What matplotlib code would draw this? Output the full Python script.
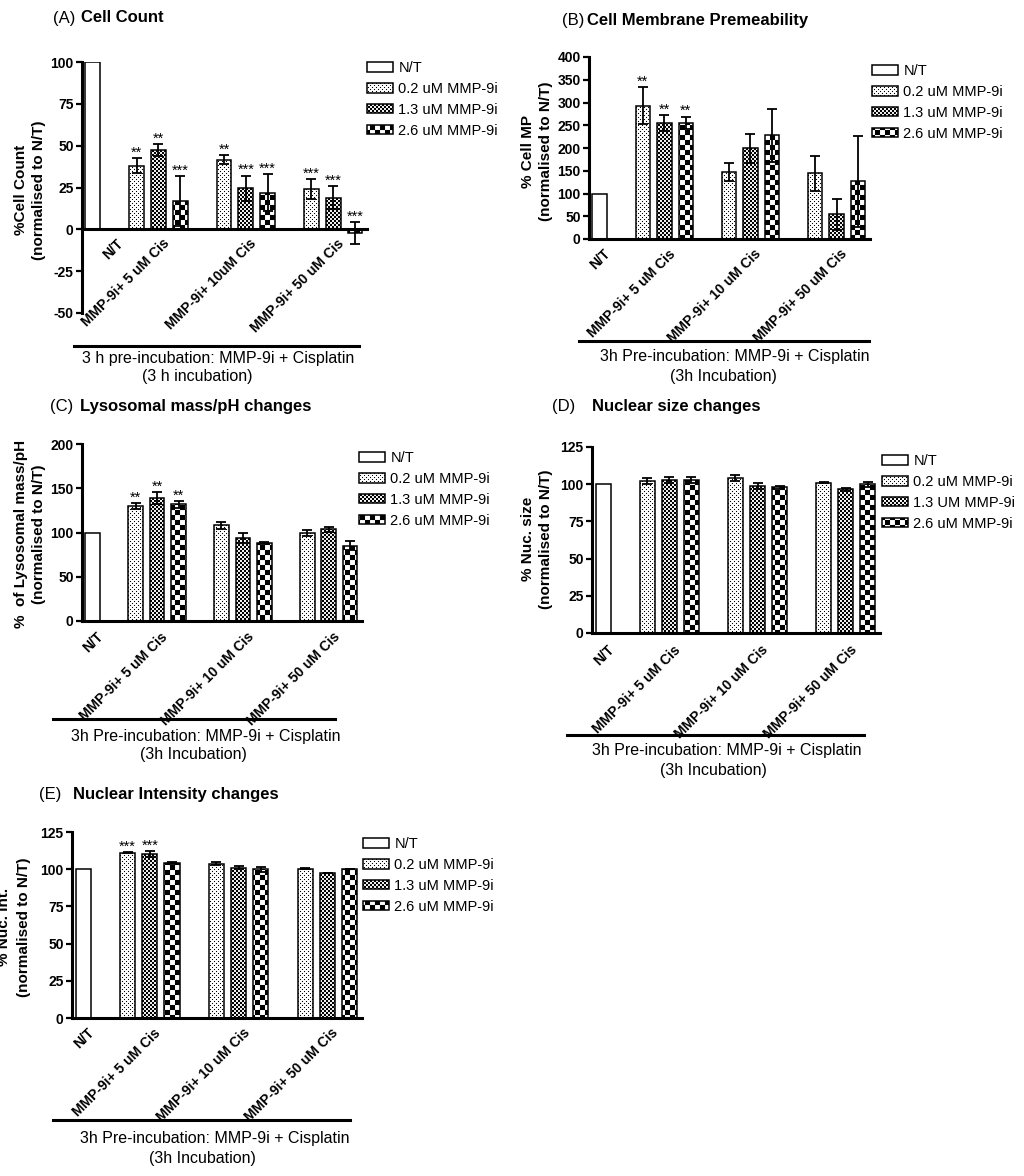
import numpy as np
import matplotlib
matplotlib.use('Agg')
import matplotlib.pyplot as plt
import matplotlib.hatch as mhatch
from matplotlib.path import Path
from matplotlib.lines import Line2D

plt.rcParams['font.family'] = ['Liberation Sans', 'DejaVu Sans']
plt.rcParams['hatch.linewidth'] = 0.05

# ---------------- data ----------------
series_labels = ['N/T', '0.2 uM MMP-9i', '1.3 uM MMP-9i', '2.6 uM MMP-9i']
series_labels_d = ['N/T', '0.2 uM MMP-9i', '1.3 UM MMP-9i', '2.6 uM MMP-9i']
group_labels = ['N/T', 'MMP-9i+ 5 uM Cis', 'MMP-9i+ 10 uM Cis', 'MMP-9i+ 50 uM Cis']
group_labels_a = ['N/T', 'MMP-9i+ 5 uM Cis', 'MMP-9i+ 10uM Cis', 'MMP-9i+ 50 uM Cis']
nt_value = 100

# (A) Cell count: per inhibitor dose, across 5 / 10 / 50 uM Cis
a_02 = [38, 41.7, 24];   a_02_err = [4.5, 2.5, 6]
a_13 = [47.3, 24.6, 19]; a_13_err = [3.5, 7.5, 7]
a_26 = [17, 22, -2];     a_26_err = [15, 11, 6.5]
a_stars = [['**', '**', '***'], ['**', '***', '***'], ['***', '***', '***']]

# (B) Cell membrane permeability
b_02 = [293, 147, 144]; b_02_err = [41, 20, 38]
b_13 = [255, 199, 54];  b_13_err = [17, 32, 35]
b_26 = [255, 228, 127]; b_26_err = [14, 58, 100]
b_stars = [['**', '', ''], ['**', '', ''], ['**', '', '']]

# (C) Lysosomal mass/pH
c_02 = [130, 108, 99.6];   c_02_err = [3.5, 4, 3.5]
c_13 = [139, 94, 103.4];   c_13_err = [6.5, 5.5, 3]
c_26 = [131.7, 88.3, 85.3]; c_26_err = [4, 1.5, 5]
c_stars = [['**', '', ''], ['**', '', ''], ['**', '', '']]

# (D) Nuclear size
d_02 = [102.2, 104.2, 100.9]; d_02_err = [2, 2, 0.3]
d_13 = [103.1, 99.1, 96.7];   d_13_err = [2, 2, 1]
d_26 = [103, 98, 99.8];       d_26_err = [2, 1, 2]
d_stars = [['', '', ''], ['', '', ''], ['', '', '']]

# (E) Nuclear intensity
e_02 = [111.2, 103.8, 100.4]; e_02_err = [0.5, 1, 0.5]
e_13 = [110, 100.9, 97.5];    e_13_err = [2, 1, 0]
e_26 = [104.2, 99.8, 99.8];   e_26_err = [0.5, 2, 0]
e_stars = [['***', '', ''], ['***', '', ''], ['', '', '']]

# ---------------- custom fill patterns (as hatches) ----------------
class MotifHatch(mhatch.HatchPatternBase):
    registry = {}

    def __init__(self, hatch, density):
        self.squares = []
        for ch, (motif, cells) in MotifHatch.registry.items():
            if hatch and ch in hatch:
                m = np.asarray(motif)
                k = m.shape[0]
                s = 1.0 / cells
                for r in range(cells):
                    for c in range(cells):
                        if m[r % k, c % k]:
                            self.squares.append((c * s, r * s, s))
        self.num_vertices = len(self.squares) * 5

    def set_vertices_and_codes(self, vertices, codes):
        for i, (x, y, s) in enumerate(self.squares):
            vertices[5 * i:5 * i + 5] = [(x, y), (x + s, y), (x + s, y + s), (x, y + s), (x, y)]
            codes[5 * i] = Path.MOVETO
            codes[5 * i + 1:5 * i + 4] = Path.LINETO
            codes[5 * i + 4] = Path.CLOSEPOLY

MotifHatch.registry[':'] = ([[1, 0, 0, 0], [0, 0, 0, 0], [0, 0, 1, 0], [0, 0, 0, 0]], 100)
MotifHatch.registry['%'] = ([[1, 0], [0, 1]], 50)
MotifHatch.registry['#'] = ([[1, 0], [0, 1]], 20)
mhatch._hatch_types.append(MotifHatch)
mhatch._validate_hatch_pattern = lambda h: None
hatches = [':', '%', '#']

# ---------------- figure ----------------
W, H = 1024, 1176
fig = plt.figure(figsize=(W / 100, H / 100), dpi=100)


def fx(x):
    return x / W


def fy(y):
    return 1 - y / H


def panel(rect, ylim, yticks, vals, errs, stars, ylabel, ylab_xy, tag, title, title_xy,
          leg_labels, leg_xy, glabels, label_pos, xpad, line, xl1, xl2, zero_spine=False,
          ylab_ls=1.45):
    x0, y0, x1, y1 = rect
    ax = fig.add_axes([fx(x0), fy(y1), (x1 - x0) / W, (y1 - y0) / H])
    for sp in ['top', 'right']:
        ax.spines[sp].set_visible(False)
    for sp in ['left', 'bottom']:
        ax.spines[sp].set_linewidth(2.2)
    if zero_spine:
        ax.spines['bottom'].set_position(('data', 0))
    width = 0.68
    bkw = dict(width=width, color='white', edgecolor='black', linewidth=1.1)
    ekw = dict(ecolor='black', elinewidth=1.3, capsize=3.3, capthick=1.3)
    handles = [ax.bar([0], [nt_value], **bkw)]
    for s in range(3):
        xs = 2 + 4 * np.arange(3) + s
        h = ax.bar(xs, vals[s], yerr=errs[s], hatch=hatches[s], error_kw=ekw, **bkw)
        handles.append(h)
        for g in range(3):
            if stars[s][g]:
                ax.annotate(stars[s][g], (xs[g], vals[s][g] + errs[s][g]),
                            xytext=(0, 1.0), textcoords='offset points',
                            ha='center', va='baseline', fontsize=10.5)
    ax.set_xlim(-0.5, 12.55)
    ax.set_ylim(*ylim)
    ax.set_yticks(yticks)
    ax.set_yticklabels([str(t) for t in yticks], fontweight='bold', fontsize=10)
    ax.tick_params(axis='y', direction='out', length=4.5, width=1.6, pad=1.5)
    ax.set_xticks(label_pos)
    ax.set_xticklabels(glabels, rotation=45, ha='right', va='top', rotation_mode='anchor',
                       fontweight='bold', fontsize=10)
    ax.tick_params(axis='x', length=0, pad=xpad)
    ax.set_ylabel(ylabel, fontweight='bold', fontsize=11, va='center', ha='center',
                  linespacing=ylab_ls)
    ax.yaxis.set_label_coords(fx(ylab_xy[0]), fy(ylab_xy[1]), transform=fig.transFigure)
    ax.legend(handles, leg_labels, loc='upper left', bbox_to_anchor=(fx(leg_xy[0]), fy(leg_xy[1])),
              bbox_transform=fig.transFigure, frameon=False, fontsize=10.5,
              handlelength=1.8, handleheight=0.65, handletextpad=0.35,
              labelspacing=0.47, borderpad=0, borderaxespad=0)
    fig.text(fx(title_xy[0]), fy(title_xy[2]), tag, fontsize=12, va='center')
    fig.text(fx(title_xy[1]), fy(title_xy[2]), title, fontsize=12, fontweight='bold', va='center')
    lx0, lx1, ly = line
    fig.add_artist(Line2D([fx(lx0), fx(lx1)], [fy(ly), fy(ly)], color='black', lw=2.2,
                          transform=fig.transFigure))
    fig.text(fx(xl1[0]), fy(xl1[1]), xl1[2], fontsize=11.5, ha='center', va='center')
    fig.text(fx(xl2[0]), fy(xl2[1]), xl2[2], fontsize=11.5, ha='center', va='center')
    return ax


shift = 0.17
base_pos = np.array([0, 3, 7, 11]) + shift

panel((82, 62, 367, 313), (-50, 100), [-50, -25, 0, 25, 50, 75, 100],
      [a_02, a_13, a_26], [a_02_err, a_13_err, a_26_err], a_stars,
      '%Cell Count\n(normalised to N/T)', (30, 190), '(A)', 'Cell Count', (53, 81, 18),
      series_labels, (367, 61), group_labels_a, base_pos + np.array([0.9, 0, 0, 0]), 5.0,
      (74, 359, 346), (218, 358, '3 h pre-incubation: MMP-9i + Cisplatin'),
      (197, 377, '(3 h incubation)'), zero_spine=True)

panel((589, 57, 870, 239), (0, 400), [0, 50, 100, 150, 200, 250, 300, 350, 400],
      [b_02, b_13, b_26], [b_02_err, b_13_err, b_26_err], b_stars,
      '% Cell MP\n(normalised to N/T)', (537, 151), '(B)', 'Cell Membrane Premeability',
      (562, 587, 20), series_labels, (872, 64), group_labels, base_pos, 5.8,
      (579, 869, 341), (735, 357, '3h Pre-incubation: MMP-9i + Cisplatin'),
      (723, 377, '(3h Incubation)'))

panel((82, 444, 362, 621), (0, 200), [0, 50, 100, 150, 200],
      [c_02, c_13, c_26], [c_02_err, c_13_err, c_26_err], c_stars,
      '%  of Lysosomal mass/pH\n(normalised to N/T)', (30, 534), '(C)',
      'Lysosomal mass/pH changes', (50, 80, 407), series_labels, (359, 451),
      group_labels, base_pos, 6.5,
      (53, 335, 719), (206, 736, '3h Pre-incubation: MMP-9i + Cisplatin'),
      (193, 755, '(3h Incubation)'))

panel((592, 447, 880, 633), (0, 125), [0, 25, 50, 75, 100, 125],
      [d_02, d_13, d_26], [d_02_err, d_13_err, d_26_err], d_stars,
      '% Nuc. size\n(normalised to N/T)', (537, 539), '(D)', 'Nuclear size changes',
      (552, 592, 407), series_labels_d, (882, 454), group_labels, base_pos, 7.2,
      (567, 864, 735), (727, 750, '3h Pre-incubation: MMP-9i + Cisplatin'),
      (713, 771, '(3h Incubation)'))

panel((72, 832, 362, 1018), (0, 125), [0, 25, 50, 75, 100, 125],
      [e_02, e_13, e_26], [e_02_err, e_13_err, e_26_err], e_stars,
      '% Nuc. Int.\n(normalised to N/T)', (14, 927), '(E)', 'Nuclear Intensity changes',
      (39, 73, 795), series_labels, (363, 837), group_labels, base_pos, 5.8,
      (53, 350, 1120), (215, 1138, '3h Pre-incubation: MMP-9i + Cisplatin'),
      (202, 1158, '(3h Incubation)'), ylab_ls=1.6)

fig.savefig('out.png', dpi=100)
